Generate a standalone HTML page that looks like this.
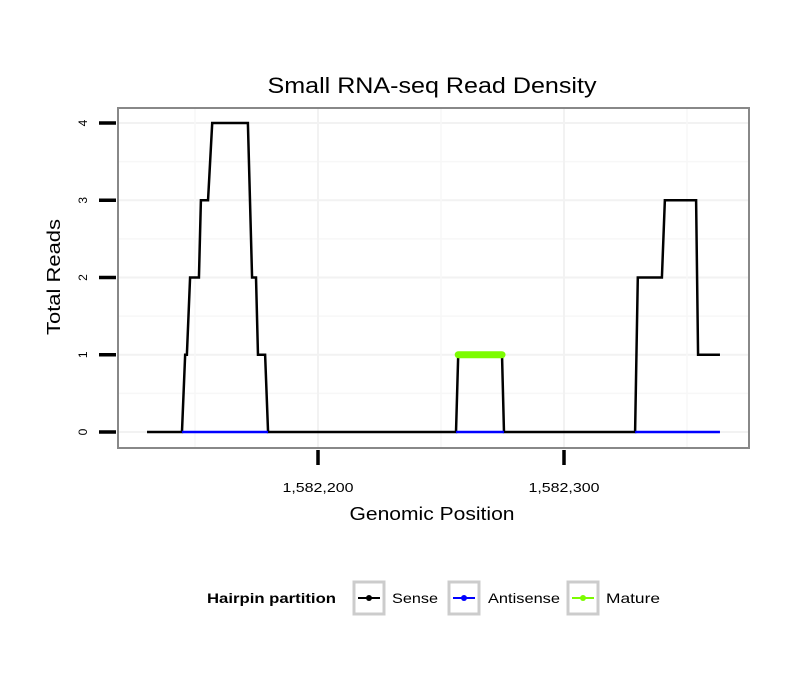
<!DOCTYPE html>
<html><head><meta charset="utf-8"><style>
body{margin:0;background:#fff;font-family:"Liberation Sans",sans-serif}
</style></head><body>
<svg id="chart" width="810" height="690" xmlns="http://www.w3.org/2000/svg" font-family="Liberation Sans, sans-serif">
<rect width="810" height="690" fill="#fff"/>
<text x="432" y="93" font-size="22" text-anchor="middle" textLength="329" lengthAdjust="spacingAndGlyphs">Small RNA-seq Read Density</text>
<g id="grid"></g>
<g id="series"></g>
<rect x="118" y="108" width="631" height="340" fill="none" stroke="#888" stroke-width="2"/>
<g id="axes"></g>
<text transform="translate(60,277) rotate(-90)" font-size="18" text-anchor="middle" textLength="116" lengthAdjust="spacingAndGlyphs">Total Reads</text>
<text x="432" y="520" font-size="18" text-anchor="middle" textLength="165" lengthAdjust="spacingAndGlyphs">Genomic Position</text>
<g>
<text x="207" y="603" font-size="14" font-weight="bold" textLength="129" lengthAdjust="spacingAndGlyphs">Hairpin partition</text>
<g>
<rect x="354" y="582" width="30" height="32" fill="#fff" stroke="#ccc" stroke-width="3"/>
<line x1="358" y1="598" x2="380" y2="598" stroke="#000" stroke-width="2"/><circle cx="369" cy="598" r="3" fill="#000"/>
<text x="392" y="603" font-size="14" textLength="46" lengthAdjust="spacingAndGlyphs">Sense</text></g>
<g>
<rect x="449" y="582" width="30" height="32" fill="#fff" stroke="#ccc" stroke-width="3"/>
<line x1="453" y1="598" x2="475" y2="598" stroke="#00f" stroke-width="2"/><circle cx="464" cy="598" r="3" fill="#00f"/>
<text x="488" y="603" font-size="14" textLength="72" lengthAdjust="spacingAndGlyphs">Antisense</text></g>
<g>
<rect x="568" y="582" width="30" height="32" fill="#fff" stroke="#ccc" stroke-width="3"/>
<line x1="572" y1="598" x2="594" y2="598" stroke="#7cfc00" stroke-width="2"/><circle cx="583" cy="598" r="3" fill="#7cfc00"/>
<text x="606" y="603" font-size="14" textLength="54" lengthAdjust="spacingAndGlyphs">Mature</text></g>
</g>
</svg>
<script>
const senseX=[1582130.5,1582144.7,1582146,1582146.7,1582148,1582151.6,1582152.4,1582155.3,1582157,1582171.5,1582173.2,1582174.8,1582175.6,1582178.5,1582179.7,1582256.1,1582257,1582274.8,1582275.6,1582328.9,1582330,1582339.8,1582341,1582353.7,1582354.5,1582363.4];
const senseY=[0,0,1,1,2,2,3,3,4,4,2,2,1,1,0,0,1,1,0,0,2,2,3,3,1,1];
const antisenseX=[[1582144.7,1582179.7],[1582256.1,1582275.6],[1582328.9,1582363.4]];
const antisenseY=[0,0,0];
const matureX=[1582257,1582274.8];
const matureY=[1,1];
const yTicks=[0,1,2,3,4];
const xTicks=[1582200,1582300];
const xTickLabels=["1,582,200","1,582,300"];
const NS="http://www.w3.org/2000/svg";
const sx=v=>318+(v-1582200)*2.46;
const sy=v=>432-v*77.25;
function mk(tag,attrs,parent){const e=document.createElementNS(NS,tag);for(const k in attrs)e.setAttribute(k,attrs[k]);parent.appendChild(e);return e;}
const grid=document.getElementById('grid'),ser=document.getElementById('series'),axes=document.getElementById('axes');
for(let v=-0.5;v<=4.5;v+=0.5){const y=sy(v);if(y<109||y>447)continue;const l=mk('line',{x1:119,x2:748,y1:y,y2:y,stroke:Number.isInteger(v)?'#f2f2f2':'#f7f7f7','stroke-width':Number.isInteger(v)?2:1.5},grid);

}
for(let v=1582150;v<=1582350;v+=50){const x=sx(v);const l=mk('line',{x1:x,x2:x,y1:109,y2:447,stroke:v%100===0?'#f2f2f2':'#f7f7f7','stroke-width':v%100===0?2:1.5},grid);

}
const sp=mk('polyline',{points:senseX.map((x,i)=>sx(x)+','+sy(senseY[i])).join(' '),fill:'none',stroke:'#000','stroke-width':2.5},ser);


antisenseX.forEach((r,i)=>{const l=mk('line',{x1:sx(r[0]),x2:sx(r[1]),y1:sy(antisenseY[i]),y2:sy(antisenseY[i]),stroke:'#00f','stroke-width':2.5},ser);

});
const ml=mk('line',{x1:sx(matureX[0]),x2:sx(matureX[1]),y1:sy(matureY[0]),y2:sy(matureY[1]),stroke:'#7cfc00','stroke-width':7,'stroke-linecap':'round'},ser);


yTicks.forEach(v=>{const y=sy(v);const t=mk('line',{x1:99,x2:116,y1:y,y2:y,stroke:'#000','stroke-width':3.5},axes);


const tx=mk('text',{transform:`translate(87,${y}) rotate(-90)`,'font-size':12,'text-anchor':'middle'},axes);tx.textContent=v;

});
xTicks.forEach((v,i)=>{const x=sx(v);const t=mk('line',{x1:x,x2:x,y1:450,y2:465,stroke:'#000','stroke-width':3.5},axes);


const tx=mk('text',{x:x,y:492,'font-size':13,'text-anchor':'middle',textLength:71,lengthAdjust:'spacingAndGlyphs'},axes);tx.textContent=xTickLabels[i];

});
</script>
</body></html>
